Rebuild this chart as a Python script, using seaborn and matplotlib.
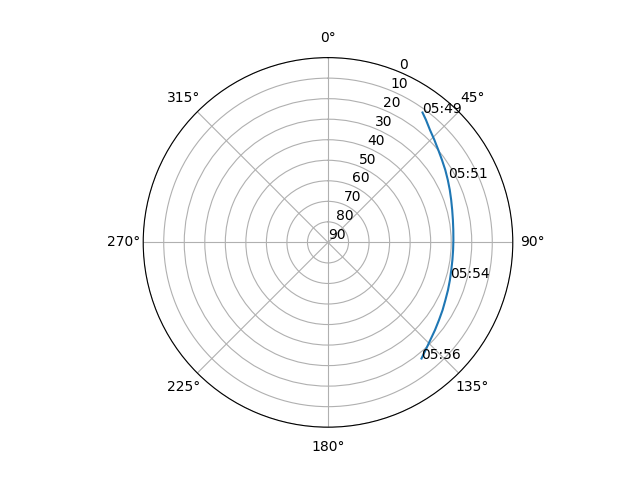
import numpy as np
import pandas as pd
import matplotlib
matplotlib.use("Agg")
import matplotlib.pyplot as plt
import seaborn as sns

# Satellite pass track (azimuth in degrees, elevation in degrees)
azimuth = [36.04, 38.69, 42.22, 46.10, 50.04, 54.14, 58.32, 62.49, 66.72, 71.00,
           75.38, 79.83, 84.35, 88.90, 93.48, 98.05, 102.62, 107.14, 111.64, 116.13,
           120.54, 124.96, 129.31, 133.65, 137.79, 141.15]
elevation = [11.77, 13.64, 16.08, 18.08, 19.92, 21.50, 22.87, 24.21, 25.43, 26.55,
             27.49, 28.20, 28.68, 28.92, 28.96, 28.81, 28.47, 27.87, 27.13, 26.31,
             25.20, 24.04, 22.65, 21.14, 19.25, 17.40]

# Time labels along the track
time_labels = ["05:49", "05:51", "05:54", "05:56"]
label_azimuth = [36.04, 61.72, 106.22, 141.37]
label_elevation = [11.77, 23.80, 27.92, 17.13]

r_ticks = list(range(0, 91, 10))

df = pd.DataFrame({"theta": np.deg2rad(azimuth), "elev": elevation})

fig = plt.figure(figsize=(6.4, 4.8), dpi=100)
ax = fig.add_subplot(111, projection="polar")
ax.set_theta_zero_location("N")
ax.set_theta_direction(-1)

sns.lineplot(data=df, x="theta", y="elev", sort=False, ax=ax, color="#1f77b4", linewidth=1.5)

ax.set_rlim(90, 0)
ax.set_yticks(r_ticks)
ax.set_xlabel("")
ax.set_ylabel("")

for lab, az, el in zip(time_labels, label_azimuth, label_elevation):
    ax.text(np.deg2rad(az), el, lab)

fig.savefig("out.png", dpi=100)
